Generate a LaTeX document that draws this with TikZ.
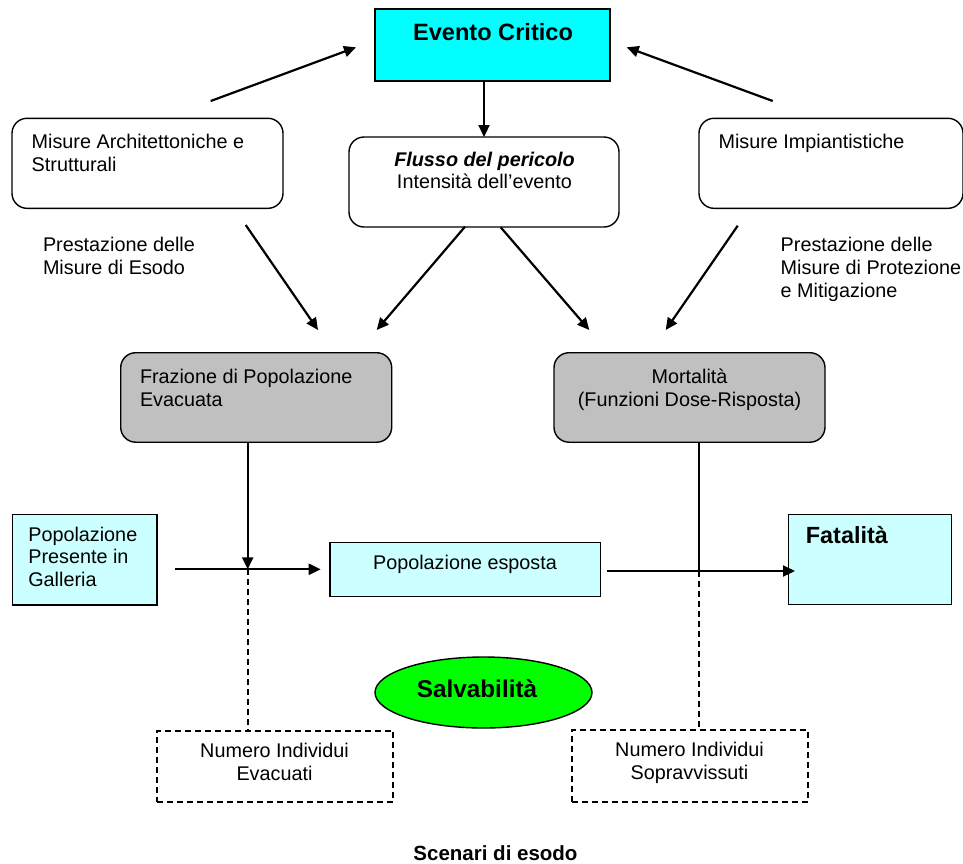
\documentclass[tikz,border=0pt]{standalone}
\usepackage{fontspec}
\setmainfont{Liberation Sans}
\usetikzlibrary{arrows.meta,shapes.geometric}
\definecolor{cyanbox}{HTML}{00FFFF}
\definecolor{lightcyan}{HTML}{CCFFFF}
\definecolor{graybox}{HTML}{C0C0C0}
\definecolor{greenbox}{HTML}{00FF00}
\newcommand\mlines[2]{\begin{tabular}[t]{@{}#1@{}}#2\end{tabular}}
\tikzset{
  body/.style={font=\fontsize{19.8}{22.7}\selectfont, inner sep=0pt, outer sep=0pt},
  rbox/.style={draw=black, line width=1.4pt, rounded corners=15pt, anchor=north west, inner sep=0pt, outer sep=0pt},
  sbox/.style={draw=black, line width=1.4pt, anchor=north west, inner sep=0pt, outer sep=0pt},
  dbox/.style={draw=black, line width=2.2pt, dash pattern=on 6pt off 4pt, anchor=north west, inner sep=0pt, outer sep=0pt},
  arr/.style={draw=black, line width=2.2pt, -{Triangle[length=12pt,width=11pt]}},
  dsh/.style={draw=black, line width=2.2pt, dash pattern=on 6pt off 4pt},
  thinln/.style={draw=black, line width=1.1pt}
}
\begin{document}
\begin{tikzpicture}[x=1pt,y=-1pt]
\useasboundingbox (0,0) rectangle (963,863);
% boxes
\node[sbox, fill=cyanbox, line width=1.6pt, minimum width=235pt, minimum height=72pt] (evento) at (375,9) {};
\node[rbox, minimum width=271pt, minimum height=90pt] (arch) at (12,118.3) {};
\node[rbox, minimum width=270pt, minimum height=90pt] (flusso) at (349,137) {};
\node[rbox, minimum width=264pt, minimum height=90pt] (imp) at (699,118.3) {};
\node[rbox, fill=graybox, minimum width=271pt, minimum height=89.5pt] (fraz) at (120.7,352.7) {};
\node[rbox, fill=graybox, minimum width=271pt, minimum height=89.5pt] (mort) at (554,352.7) {};
\node[sbox, fill=lightcyan, minimum width=144.7pt, minimum height=90.5pt] (popP) at (12.3,514.3) {};
\node[sbox, fill=lightcyan, minimum width=270.7pt, minimum height=54pt] (popE) at (330,542.7) {};
\node[sbox, fill=lightcyan, minimum width=163pt, minimum height=90pt] (fatal) at (788.7,514.3) {};
\node[ellipse, draw=black, line width=1.4pt, fill=greenbox, minimum width=217pt, minimum height=71pt, inner sep=0pt] (salv) at (483.5,692.5) {};
\node[dbox, minimum width=236.6pt, minimum height=71pt] (evac) at (156.7,730.7) {};
\node[dbox, minimum width=236pt, minimum height=71.7pt] (surv) at (572.3,730) {};
% texts
\node[anchor=base, inner sep=0pt, font=\bfseries\fontsize{23.6}{27}\selectfont] (eventoT) at (493,40) {Evento Critico};
\node[body, anchor=base west] (archT) at (31.7,148.5) {\mlines{l}{Misure Architettoniche e\\Strutturali}};
\node[body, anchor=base] (flussoT) at (484.5,166) {\mlines{c}{\textbf{\textit{Flusso del pericolo}}\\Intensità dell’evento}};
\node[body, anchor=base west] (impT) at (718.5,148.5) {Misure Impiantistiche};
\node[body, anchor=base west] (prestL) at (43,251.7) {\mlines{l}{Prestazione delle\\Misure di Esodo}};
\node[body, anchor=base west] (prestR) at (780.7,251.7) {\mlines{l}{Prestazione delle\\Misure di Protezione\\e Mitigazione}};
\node[body, anchor=base west] (frazT) at (140,383.3) {\mlines{l}{Frazione di Popolazione\\Evacuata}};
\node[body, anchor=base] (mortT) at (689.5,383.3) {\mlines{c}{Mortalità\\(Funzioni Dose-Risposta)}};
\node[body, anchor=base west] (popPT) at (28.3,541.2) {\mlines{l}{Popolazione\\Presente in\\Galleria}};
\node[body, anchor=base] (popET) at (465,569) {Popolazione esposta};
\node[anchor=base west, inner sep=0pt, font=\bfseries\fontsize{23.4}{27}\selectfont] (fatalT) at (805.7,543.5) {Fatalità};
\node[anchor=base, inner sep=0pt, font=\bfseries\fontsize{24.3}{28}\selectfont] (salvT) at (477,697.3) {Salvabilità};
\node[body, anchor=base] (evacT) at (274.5,757.3) {\mlines{c}{Numero Individui\\Evacuati}};
\node[body, anchor=base] (survT) at (689.5,756.8) {\mlines{c}{Numero Individui\\Sopravvissuti}};
\node[anchor=base, inner sep=0pt, font=\bfseries\fontsize{20.5}{24}\selectfont] (scenT) at (495.5,860.5) {Scenari di esodo};
% free connector ends
\coordinate (aL1) at (210.7,101);
\coordinate (aL2) at (356,47.3);
\coordinate (aR1) at (772.7,101);
\coordinate (aR2) at (626.7,47.3);
\coordinate (m1a) at (245.7,225);
\coordinate (m1b) at (318,330);
\coordinate (m2a) at (465,226.7);
\coordinate (m2b) at (376.7,330);
\coordinate (m3a) at (500.7,227.3);
\coordinate (m3b) at (589.3,330);
\coordinate (m4a) at (737.7,225.7);
\coordinate (m4b) at (665.7,330);
\coordinate (j1) at (247.7,569.3);
\coordinate (h1a) at (175,569.3);
\coordinate (h1b) at (320.7,569.3);
\coordinate (j2) at (699,571);
\coordinate (h2a) at (606.7,571);
\coordinate (h2b) at (795,571);
% connectors
\draw[arr] (aL1) -- (aL2);
\draw[arr] (aR1) -- (aR2);
\draw[arr] (evento.south -| flusso.north) -- (flusso.north);
\draw[arr] (m1a) -- (m1b);
\draw[arr] (m2a) -- (m2b);
\draw[arr] (m3a) -- (m3b);
\draw[arr] (m4a) -- (m4b);
\draw[arr] (fraz.south -| j1) -- (j1);
\draw[arr] (h1a) -- (h1b);
\draw[dsh] (j1) -- (evac.north -| j1);
\draw[thinln] (mort.south -| j2) -- (j2);
\draw[dsh] (j2) -- (surv.north -| j2);
\draw[arr] (h2a) -- (h2b);
\end{tikzpicture}
\end{document}
